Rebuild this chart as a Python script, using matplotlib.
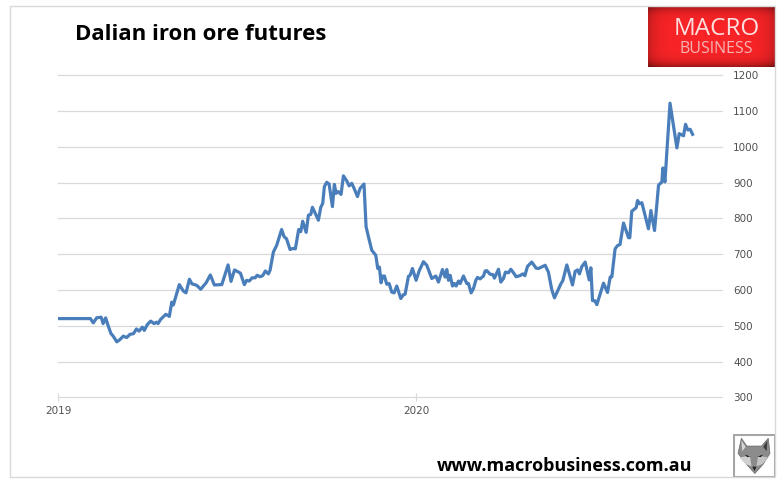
import numpy as np
import matplotlib
matplotlib.use("Agg")
import matplotlib.pyplot as plt
from matplotlib.patches import Polygon, Rectangle

# days since 1 Jan 2019
dias = [0, 33, 36, 39.4, 44, 46, 48.6, 51, 54, 56, 60, 63, 66.6, 70, 73.4, 77, 80, 82.6, 86, 88,
        91, 94.5, 98, 100.6, 102, 104.7, 110, 113.5, 116, 117.6, 123.7, 127.8, 130.5, 134, 136.6,
        141.4, 145.5, 151, 155.3, 159.4, 167, 173.4, 176.4, 180, 186, 190, 192.4, 195, 198, 201,
        203, 206, 208.7, 211.4, 214.5, 216.2, 219.6, 223, 228, 230.5, 233, 236.6, 239.3, 242,
        245.4, 247.5, 249.5, 253, 255.3, 257.7, 259.4, 262, 265.5, 267.9, 269.9, 271.6, 274,
        276.4, 279.8, 281.8, 283.5, 285.9, 288.6, 291, 294.4, 296.8, 299.5, 301.9, 305.3, 308,
        312, 314.1, 316.5, 319.9, 324, 326, 327.7, 329.4, 331.1, 332.8, 335.2, 337.6, 340.3,
        342.7, 345.4, 349.5, 352.2, 353.9, 357.3, 359, 361.4, 365.1, 368.2, 372.6, 376, 381.1,
        385.2, 387.9, 392, 394.7, 396.4, 398.1, 399.8, 402.2, 404.2, 405.9, 408.3, 410, 413.4,
        416.8, 418.5, 421.2, 423.6, 426, 427.7, 430.4, 433.8, 435.5, 437.2, 440.6, 443.3, 445,
        449.1, 451.5, 454.2, 456.2, 459.3, 461.7, 464.4, 467.1, 471, 474, 476, 478.7, 483, 487.5,
        489.9, 496.7, 500, 503.5, 506.2, 512.7, 514.7, 518.8, 524.6, 527.3, 529.7, 531.7, 534,
        537.5, 541.6, 543.3, 545, 547.4, 549.4, 556.2, 560.3, 563, 564.7, 568, 570.5, 573, 576.6,
        581.7, 583, 585, 589.5, 590.9, 593, 595.3, 602, 604.5, 608.2, 612.3, 615.7, 616.7, 618.8,
        624, 631, 633.4, 637.8, 639.8, 642.2, 644.6, 647]
precio = [520, 520, 508, 522, 524, 506, 522, 501, 478, 472, 455, 461, 471, 467, 476, 478, 491, 485, 496, 487,
          503, 513, 506, 510, 506, 518, 532, 526, 566, 558, 615, 597, 592, 630, 617,
          613, 602, 620, 642, 614, 615, 670, 624, 656, 647, 615, 627, 625, 634, 634,
          641, 637, 640, 653, 645, 655, 706, 725, 769, 749, 743, 713, 716, 715,
          769, 763, 792, 761, 809, 811, 831, 816, 795, 831, 842, 889, 901,
          896, 833, 895, 870, 875, 867, 919, 905, 891, 898, 884, 861, 884,
          896, 777, 749, 711, 697, 660, 664, 620, 639, 639, 616, 618, 594,
          592, 611, 576, 587, 588, 638, 641, 660, 627, 653, 679, 669, 632,
          639, 622, 657, 636, 657, 627, 641, 611, 618, 611, 625, 618, 639,
          618, 618, 592, 604, 627, 635, 631, 639, 653, 654, 644, 643, 633,
          658, 622, 632, 650, 648, 658, 648, 637, 640, 645, 640, 666, 678, 661,
          660, 669, 650, 600, 578, 617, 626, 670, 614, 652, 656, 645, 665,
          678, 628, 662, 570, 570, 559, 619, 593, 636, 637, 715, 724, 727, 787,
          746, 746, 820, 830, 850, 841, 844, 771, 822, 766, 893, 902, 941, 902,
          1122, 997, 1037, 1031, 1063, 1047, 1049, 1035]
ticks_y = [300, 400, 500, 600, 700, 800, 900, 1000, 1100, 1200]
ticks_x = [0, 365]
etiquetas_x = ["2019", "2020"]

W, H = 783, 482
GRIS = "#d9d9d9"
TEXTO = "#505050"

fig = plt.figure(figsize=(W / 100, H / 100), dpi=100)
ax = fig.add_axes([58 / W, 1 - 397.3 / H, (722 - 58) / W, (397.3 - 75.3) / H])

ax.plot(dias, precio, color="#4a7ebb", lw=2.3, solid_joinstyle="round")
ax.set_xlim(0, 677)
ax.set_ylim(300, 1200)
ax.set_yticks(ticks_y)
ax.set_xticks(ticks_x, etiquetas_x)
ax.yaxis.tick_right()
ax.grid(axis="y", color=GRIS, lw=0.9, clip_on=False)
ax.set_axisbelow(True)
for s in ax.spines.values():
    s.set_visible(False)
ax.tick_params(axis="y", length=0, pad=8, labelsize=7.5, labelcolor=TEXTO)
ax.tick_params(axis="x", direction="inout", length=6, color=GRIS, pad=3, labelsize=7.5, labelcolor=TEXTO)

fig.text(75 / W, 1 - 34 / H, "Dalian iron ore futures", fontsize=16, fontweight="bold",
         family="Open Sans", va="center", color="black")
fig.text(437 / W, 1 - 466 / H, "www.macrobusiness.com.au", fontsize=13, fontweight="bold",
         family="Open Sans", va="center", color="black")

# marco exterior
fig.add_artist(Rectangle((10 / W, 1 - 477 / H), 765 / W, 471 / H, fc="none", ec=GRIS, lw=1,
                         transform=fig.transFigure))

# logo rojo
logo = fig.add_axes([648 / W, 1 - 67 / H, 127 / W, 61 / H])
yy, xx = np.mgrid[-1:1:61j, -1:1:127j]
brillo = np.clip(1 - 0.35 * np.abs(yy) ** 6 - 0.2 * np.abs(xx) ** 8, 0, 1)
img = np.dstack([0.97 * brillo, 0.14 * brillo, 0.15 * brillo])
logo.imshow(img, aspect="auto", extent=(0, 1, 0, 1))
logo.axis("off")
logo.text(0.54, 0.62, "MACRO", color="#fde0e0", fontsize=17.5, ha="center", va="center", family="Open Sans")
logo.text(0.54, 0.29, "BUSINESS", color="#f6b4b4", fontsize=11.5, ha="center", va="center", family="Open Sans")

# icono del zorro
zorro = fig.add_axes([733 / W, 1 - 477 / H, 42 / W, 43 / H])
zorro.set_xlim(0, 1)
zorro.set_ylim(0, 1)
zorro.axis("off")
zorro.add_patch(Rectangle((0, 0), 1, 1, fc="white", ec="#a6a6a6", lw=2.2))
zorro.add_patch(Polygon([(.2, .9), (.33, .72), (.68, .72), (.84, .9), (.88, .55), (.72, .3), (.52, .08),
                         (.32, .3), (.12, .55)], fc="#8c8c8c", ec="#666666", lw=.5))
zorro.add_patch(Polygon([(.2, .85), (.3, .7), (.22, .6)], fc="#d8d8d8", ec="none"))
zorro.add_patch(Polygon([(.82, .85), (.72, .7), (.8, .6)], fc="#3c3c3c", ec="none"))
zorro.add_patch(Polygon([(.15, .45), (.4, .5), (.44, .25), (.3, .3)], fc="#d0d0d0", ec="none"))
zorro.add_patch(Polygon([(.85, .45), (.6, .5), (.56, .25), (.7, .3)], fc="#c4c4c4", ec="none"))
zorro.add_patch(Polygon([(.28, .52), (.42, .48), (.34, .46)], fc="#222222", ec="none"))
zorro.add_patch(Polygon([(.72, .52), (.58, .48), (.66, .46)], fc="#222222", ec="none"))
zorro.add_patch(Polygon([(.46, .24), (.56, .24), (.51, .14)], fc="#222222", ec="none"))

fig.savefig("out.png", dpi=100)
